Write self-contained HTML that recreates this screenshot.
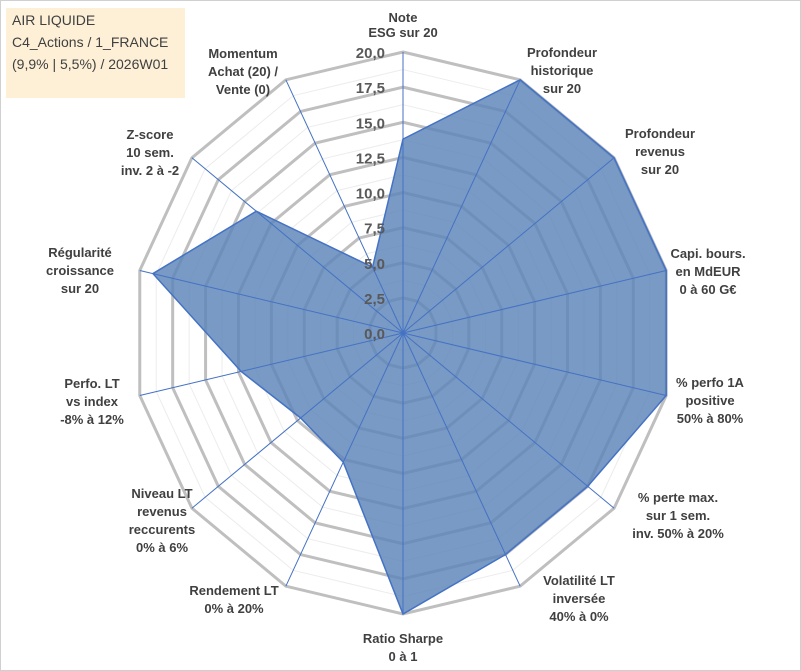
<!DOCTYPE html>
<html><head><meta charset="utf-8"><style>
body{margin:0;background:#fff;}
svg{display:block;font-family:"Liberation Sans",sans-serif;}
.lbl{font-size:13px;font-weight:bold;fill:#404040;text-anchor:middle;}
.tick{font-size:15px;font-weight:bold;fill:#595959;text-anchor:end;}
</style></head><body>
<svg id="c" width="801" height="671">
<rect x="0.5" y="0.5" width="800" height="670" fill="#fff" stroke="#d0d0d0"/>
<g id="grid"></g><g id="series"></g><g id="ticks"></g><g id="labels"></g>
<rect x="6" y="8" width="179" height="90" fill="#fdf0d7"/>
<text x="12" y="25" font-size="14" fill="#404040">AIR LIQUIDE</text>
<text x="12" y="47" font-size="14" fill="#404040">C4_Actions / 1_FRANCE</text>
<text x="12" y="69" font-size="14" fill="#404040">(9,9% | 5,5%) / 2026W01</text>
</svg>
<script>
const categories=[["Note","ESG sur 20"],["Profondeur","historique","sur 20"],["Profondeur","revenus","sur 20"],["Capi. bours.","en MdEUR","0 à 60 G€"],["% perfo 1A","positive","50% à 80%"],["% perte max.","sur 1 sem.","inv. 50% à 20%"],["Volatilité LT","inversée","40% à 0%"],["Ratio Sharpe","0 à 1"],["Rendement LT","0% à 20%"],["Niveau LT","revenus","reccurents","0% à 6%"],["Perfo. LT","vs index","-8% à 12%"],["Régularité","croissance","sur 20"],["Z-score","10 sem.","inv. 2 à -2"],["Momentum","Achat (20) /","Vente (0)"]];
const values=[13.8,20,20,20,20,17.5,17.5,20,10.2,9.7,12.3,19,13.9,5.2];
const tickValues=[0,2.5,5,7.5,10,12.5,15,17.5,20];
const tickLabels=["0,0","2,5","5,0","7,5","10,0","12,5","15,0","17,5","20,0"];
const labelPos=[[403,22],[562,57],[660,138],[708,258],[710,387],[678,502],[579,585],[403,643],[234,595],[162,498],[92,388],[80,257],[150,139],[243,58]];
const cx=403,cy=333,RX=270,RY=281,max=20,N=categories.length;
const ns="http://www.w3.org/2000/svg";
function ang(i){return i*2*Math.PI/N;}
function pt(i,v){const f=v/max,a=ang(i);return [cx+f*RX*Math.sin(a),cy-f*RY*Math.cos(a)];}
function mk(tag,attrs,parent){const e=document.createElementNS(ns,tag);for(const k in attrs)e.setAttribute(k,attrs[k]);parent.appendChild(e);return e;}
const grid=document.getElementById('grid');
for(let k=1;k<=16;k++){const v=k*1.25;const major=k%2===0;
 const p=[];for(let i=0;i<N;i++)p.push(pt(i,v).join(','));
 const e=mk('polygon',{points:p.join(' '),fill:'none',stroke:major?'#bfbfbf':'#ececec','stroke-width':major?3:1},grid);
 
 }
const ser=document.getElementById('series');
const sp=values.map((v,i)=>pt(i,v).join(',')).join(' ');
const poly=mk('polygon',{points:sp,fill:'#5b84b8','fill-opacity':0.82,stroke:'#4472c4','stroke-width':1.5},ser);


for(let i=0;i<N;i++){const [x,y]=pt(i,max);
 const l=mk('line',{x1:cx,y1:cy,x2:x,y2:y,stroke:'#4472c4','stroke-width':1},ser);
 
 }
const tk=document.getElementById('ticks');
tickValues.forEach((v,j)=>{const t=mk('text',{class:'tick',x:cx-18,y:cy-v/max*RY+6},tk);t.textContent=tickLabels[j];
 
 });
const lb=document.getElementById('labels');
categories.forEach((c,i)=>{const [x,y]=labelPos[i];const t=mk('text',{class:'lbl',x:x,y:y},lb);
 
 
 c.forEach((s,j)=>{const ts=mk('tspan',{x:x,dy:j?(i===0?15:18):0},t);ts.textContent=s;});});
</script>
</body></html>
